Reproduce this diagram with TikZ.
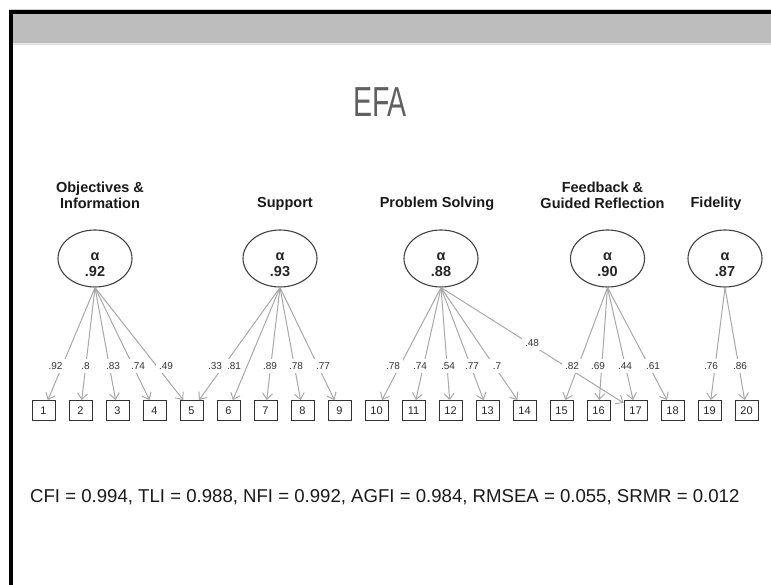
\documentclass[tikz,border=0pt]{standalone}
\usepackage{fontspec}
\usepackage{graphicx}
\setmainfont{Liberation Sans}
\usetikzlibrary{arrows.meta,shapes.geometric}
\definecolor{band}{HTML}{BDBDBD}
\definecolor{edgegray}{HTML}{A8A8A8}
\definecolor{titlegray}{HTML}{606060}
\begin{document}
\begin{tikzpicture}[x=1pt,y=-1pt,
  lat/.style={ellipse, draw=black!75, line width=1.1pt, minimum width=74pt, minimum height=57pt, inner sep=0pt},
  lattext/.style={align=center, font=\bfseries\fontsize{14.5}{16}\selectfont, text=black!85, inner sep=0pt},
  obs/.style={draw=black!80, line width=0.8pt, minimum width=23pt, minimum height=20pt, inner sep=0pt, font=\fontsize{11}{13}\selectfont, text=black!85},
  edgeline/.style={draw=edgegray, line width=1pt, -{Straight Barb[length=6pt,width=10pt]}},
  lab/.style={fill=white, inner sep=3.5pt, font=\fontsize{10}{12}\selectfont, text=black!80},
  ftitle/.style={align=center, font=\bfseries\fontsize{14.5}{16}\selectfont, text=black!90, inner sep=0pt}
]
\useasboundingbox (0,0) rectangle (771,585);
% frame
\fill[black!20] (9,9) rectangle (771,10);
\fill[black] (9,10) rectangle (771,14);
\fill[black] (9,10) rectangle (13,585);
\fill[band] (13,14) rectangle (771,43);
\fill[black!10] (13,43) rectangle (771,45);
% title
\node[text=titlegray, font=\fontsize{42}{44}\selectfont, inner sep=0pt] (efa) at (380,102) {\scalebox{0.68}[1]{EFA}};
% factor titles
\node[ftitle] (ti1) at (100,195) {Objectives \&\\Information};
\node[ftitle] (ti2) at (285,204) {Support};
\node[ftitle] (ti3) at (437,204) {Problem Solving};
\node[ftitle] (ti4) at (602.5,195) {Feedback \&\\Guided Reflection};
\node[ftitle] (ti5) at (716,204) {Fidelity};
% latent ellipses
\foreach \n/\x/\a in {1/95/.92,2/280/.93,3/441/.88,4/607.5/.90,5/725/.87}{
  \node[lat] (e\n) at (\x,258.5) {};
  \node[lattext] (t\n) at (\x,265) {α\\\a};
}
% observed boxes
\foreach \i in {1,...,20}
  \node[obs] (b\i) at ({43.5+37*(\i-1)},410.5) {\i};
% edges
\foreach \e/\b in {1/1,1/2,1/3,1/4,1/5,2/5,2/6,2/7,2/8,2/9,3/10,3/11,3/12,3/13,3/14,3/17,4/15,4/16,4/17,4/18,5/19,5/20}
  \draw[edgeline] (e\e.south) -- (b\b);
% loadings
\foreach \n/\x/\y/\t in {1/55.5/366/.92,2/85.5/366/.8,3/113/366/.83,4/138/366/.74,5/166/366/.49,
  6/215/366/.33,7/234/366/.81,8/270/366/.89,9/296/366/.78,10/323/366/.77,
  11/393/366/.78,12/420/366/.74,13/448/366/.54,14/472/366/.77,15/497/366/.7,16/532/343/.48,
  17/572/366/.82,18/598/366/.69,19/625/366/.44,20/653/366/.61,
  21/711/366/.76,22/740/366/.86}
  \node[lab] (l\n) at (\x,\y) {\t};
% fit indices
\node[anchor=west, font=\fontsize{18.6}{20}\selectfont, text=black!90, inner sep=0pt] (fit) at (30,497) {CFI = 0.994, TLI = 0.988, NFI = 0.992, AGFI = 0.984, RMSEA = 0.055, SRMR = 0.012};
\end{tikzpicture}
\end{document}
